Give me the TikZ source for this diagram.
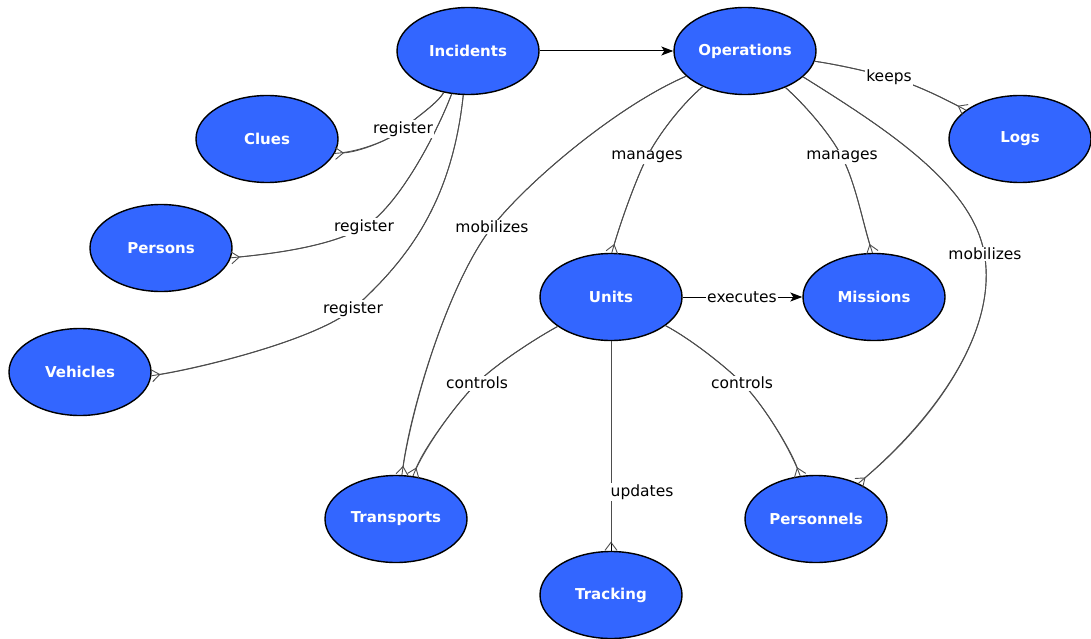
\documentclass[tikz,border=0pt]{standalone}
\usepackage{fontspec}
\setmainfont{DejaVu Sans}
\usetikzlibrary{arrows.meta,shapes.geometric}
\definecolor{nodeblue}{HTML}{3366FF}
\definecolor{edgegray}{HTML}{4D4D4D}
\tikzset{
  ent/.style={ellipse,draw=black,line width=1.4pt,fill=nodeblue,minimum width=142pt,minimum height=87pt,inner sep=0pt,text=white,font=\fontsize{15}{18}\selectfont\bfseries},
  edge/.style={draw=edgegray,line width=0.9pt},
  crow/.style={postaction={draw=edgegray,line width=0.9pt,-{Straight Barb[reversed,length=8pt,width=12pt]}}},
  lbl/.style={fill=white,inner sep=1.5pt,text=black,font=\fontsize{15.5}{18}\selectfont},
  arr/.style={draw=black,line width=1pt,-{Stealth[length=12pt,width=9pt,inset=3pt]}}
}
\begin{document}
\begin{tikzpicture}[x=1pt,y=-1pt]
\useasboundingbox (0,0) rectangle (1091,639);
% entities
\node[ent] (inc) at (468,51) {Incidents};
\node[ent] (ops) at (745,51) {Operations};
\node[ent] (clu) at (267,139) {Clues};
\node[ent] (logs) at (1020,139) {Logs};
\node[ent] (per) at (161,248) {Persons};
\node[ent] (veh) at (80,372) {Vehicles};
\node[ent] (uni) at (611,297) {Units};
\node[ent] (mis) at (874,297) {Missions};
\node[ent] (tra) at (396,519) {Transports};
\node[ent] (pnl) at (816,519) {Personnels};
\node[ent] (trk) at (611,595) {Tracking};
% connectors
\draw[arr] (inc) -- (ops);
\draw[edge,crow] (inc) .. controls (437,104) and (414,119) .. (403,129) .. controls (392,139) and (360,152) .. (clu.-12);
\draw[edge,crow] (inc) .. controls (436,135) and (398,207) .. (364,227) .. controls (330,247) and (270,254) .. (per.-8);
\draw[edge,crow] (inc) .. controls (452,200) and (410,258) .. (353,309) .. controls (314,341) and (196,369) .. (veh.-3);
\draw[edge,crow] (ops) .. controls (619,105) and (529,180) .. (492,227) .. controls (449,282) and (411,407) .. (tra);
\draw[edge,crow] (uni) .. controls (533,340) and (495,365) .. (477,383) .. controls (456,404) and (424,448) .. (tra);
\draw[edge,crow] (ops) .. controls (682,104) and (658,135) .. (647,157) .. controls (634,184) and (620,224) .. (uni.89);
\draw[edge,crow] (ops) .. controls (806,106) and (831,135) .. (842,157) .. controls (856,184) and (863,224) .. (mis.92);
\draw[edge,crow] (ops) .. controls (840,65) and (865,71) .. (889,77) .. controls (913,83) and (945,99) .. (logs);
\draw[edge,crow] (ops.-24) .. controls (883,127) and (971,183) .. (984,252) .. controls (999,330) and (935,419) .. (pnl);
\draw[edge,crow] (uni) .. controls (689,338) and (724,365) .. (742,383) .. controls (763,404) and (790,448) .. (pnl);
\draw[arr] (uni) -- (mis);
\draw[draw=black,line width=1pt,crow] (uni) -- (trk);
% labels
\node[lbl] (l1) at (403,129) {register};
\node[lbl] (l2) at (364,227) {register};
\node[lbl] (l3) at (353,309) {register};
\node[lbl] (l4) at (492,227) {mobilizes};
\node[lbl] (l5) at (477,383) {controls};
\node[lbl] (l6) at (647,157) {manages};
\node[lbl] (l7) at (842,157) {manages};
\node[lbl] (l8) at (889,77) {keeps};
\node[lbl] (l9) at (985,254) {mobilizes};
\node[lbl] (l10) at (742,383) {controls};
\node[lbl] (l11) at (742,297) {executes};
\node[lbl,anchor=west] (l12) at (609,492) {updates};
\end{tikzpicture}
\end{document}
